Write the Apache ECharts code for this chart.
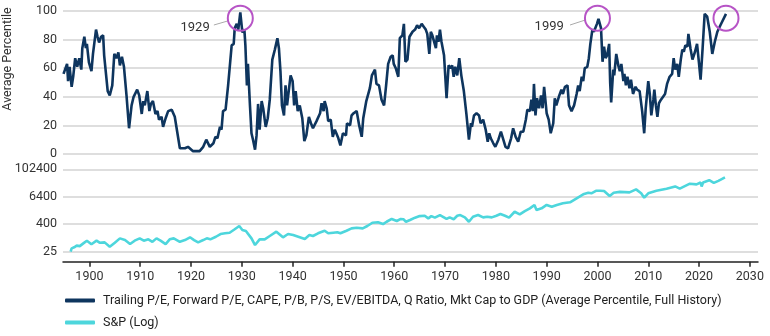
<!DOCTYPE html>
<html><head><meta charset="utf-8">
<script src="https://cdn.jsdelivr.net/npm/echarts@6/dist/echarts.min.js"></script>
<style>html,body{margin:0;padding:0;background:#fff}#c{width:770px;height:336px}</style>
</head><body><div id="c"></div>
<script>
// ---- Valuation composite (average percentile) ----
const topYears = [1894.9,1895.6,1895.8,1896.1,1896.5,1896.8,1897.2,1897.6,1898.0,1898.4,1898.6,1899.0,1899.3,1899.5,1899.9,1900.4,1900.7,1901.3,1901.6,1901.9,1902.3,1902.7,1902.9,1903.2,1903.6,1904.0,1904.5,1904.9,1905.3,1905.7,1906.0,1906.4,1906.8,1907.3,1907.8,1908.3,1908.7,1909.4,1909.8,1910.3,1910.6,1910.9,1911.4,1911.8,1912.1,1912.5,1913.0,1913.4,1913.7,1914.2,1914.5,1915.0,1915.5,1916.2,1916.8,1917.8,1918.8,1919.4,1920.4,
1921.7,1922.4,1923.0,1923.7,1924.4,1924.8,1925.2,1925.7,1926.0,1926.3,1926.8,1927.3,1928.0,1928.4,1928.6,1929.0,1929.3,1929.7,1930.1,1930.5,1930.7,1931.0,1931.2,1931.6,1931.9,1932.2,1932.6,1932.9,1933.2,1933.5,1933.9,1934.2,1934.7,1935.1,1935.5,1936.0,1936.5,1937.0,1937.3,1937.6,1937.9,1938.3,1938.6,1938.9,1939.3,1939.6,1940.0,1940.3,1940.6,1941.0,1941.4,1941.9,1942.3,1942.7,1943.2,1943.6,1944.0,1944.7,1945.4,1945.7,1946.1,1946.3,1946.7,1947.0,1947.5,
1947.9,1948.3,1948.6,1949.0,1949.4,1949.9,1950.5,1950.7,1951.3,1951.6,1952.0,1952.6,1953.1,1953.6,1953.9,1954.5,1955.2,1955.6,1955.9,1956.2,1956.5,1957.0,1957.5,1958.0,1958.4,1958.8,1959.3,1959.7,1959.9,1960.3,1960.8,1961.1,1961.6,1961.9,1962.2,1962.6,1963.0,1963.3,1963.6,1964.1,1964.5,1964.9,1965.4,1965.8,1966.2,1966.5,1966.9,1967.2,1967.5,1967.8,1968.2,1968.4,1968.7,1969.0,1969.3,1969.8,1970.3,1970.7,1971.1,1971.4,1971.7,1972.0,1972.4,1972.8,1973.2,1973.7,1974.2,1974.7,
1975.1,1975.3,1975.7,1976.2,1976.7,1977.0,1977.5,1978.0,1978.4,1978.7,1979.0,1979.5,1979.9,1980.5,1981.0,1981.4,1981.9,1982.4,1983.0,1983.4,1983.9,1984.4,1984.9,1985.4,1985.9,1986.2,1986.7,1987.0,1987.3,1987.5,1987.8,1988.1,1988.5,1988.9,1989.2,1989.5,1990.0,1990.4,1990.8,1991.3,1991.6,1991.9,1992.4,1992.9,1993.2,1993.6,1994.1,1994.4,1994.9,1995.4,1995.9,1996.2,1996.5,1996.9,1997.2,1997.5,1998.0,1998.3,1998.6,1999.0,1999.3,1999.6,1999.9,2000.2,
2000.7,2001.0,2001.3,2001.6,2001.9,2002.3,2002.5,2002.7,2003.1,2003.3,2003.7,2004.1,2004.4,2004.7,2005.1,2005.3,2005.6,2005.9,2006.3,2006.6,2007.0,2007.5,2007.8,2008.3,2008.8,2009.2,2009.5,2010.0,2010.3,2010.6,2011.0,2011.2,2011.5,2011.8,2012.1,2012.5,2012.8,2013.3,2013.7,2014.2,2014.7,2015.0,2015.3,2015.7,2016.0,2016.4,2016.7,2017.0,2017.3,2017.7,2017.9,2018.3,2018.7,2019.2,2019.6,2020.0,2020.3,2020.7,2021.1,2021.6,2022.1,2022.6,2023.1,2023.6,2024.2,2025.3];
const topValues = [56,63,51,61,47,54,67,61,67,59,74,82,74,77,64,58,70,87,82,78,82,83,69,69,44,41,48,70,67,71,62,68,61,41,18,34,40,45,41,28,37,34,44,30,35,37,28,30,24,26,19,25,30,31,26,4,4,5,2,
2,5,10,5,7.5,12,11,19,17,30,31,48,76,77,88,91,87,99,85,87,76,48,63,34,14.5,10,3,13,35,17,37,32,19,25,38,66,73,81,74,58,34,27,48,34,46,55,51,34,44,30,34,25,9,13,26,21.5,18,23,28.5,35.5,30,37,32,23,24,
12,17,14.5,11,6,14.5,13,21.5,20,27,28.5,30,20,12,25,37,46,55,54,59,49,48,38,34,48,63,68,69,63,60,54,81,83,91,64.5,66,82,81,85.5,87,90,88,91,89,87,84,70,85.5,83,84,74,83,78.5,87,78.5,69,39,62,60,62,54,61,55,67,55,44,28,10,
21.5,19,27,28.5,27,21.5,24,17,8.6,14.5,11,7.5,5,10,15.6,11,5,4,11,18,12,8.6,15.6,15.6,24,31,30,38,30,49,27,39,32,41,32,47,28.5,24,14.5,21.5,39,34,40,45,42,47,48,34,30,34,42,48,44,54,51,60,61,67,77,87,85.5,85.5,91,94.5,
88,64.5,75,67,69,77,50,36,59,55,70,62,58,63,51,56,48,54,46,52,42,47,45,44,30,14.5,32,51,42,27,38,45,34,26,35.5,38,37,42,49,54,56,67,59,63,54,66,73,71.5,76,75,84,74,66,71.5,77,63,52,74,98,96,85.5,70,78.5,85.5,90,98];

// ---- S&P (log) ----
const spYears = [1896.3,1896.5,1897.0,1897.5,1898.1,1898.8,1899.5,1900.4,1901.4,1902.0,1903.0,1904.0,1905.0,1906.0,1907.0,1908.0,1908.9,1909.9,1910.7,1911.6,1912.4,1913.2,1914.0,1915.0,1915.8,1916.6,1917.8,1918.8,1919.8,1920.6,1921.4,1922.4,1923.1,1923.8,1924.9,1925.8,1926.7,1927.6,1928.6,1929.5,1930.1,1930.8,1931.9,1932.6,1933.5,1934.5,1935.5,1936.8,1938.1,1939.1,1940.1,1941.4,1942.4,1943.3,1944.0,1945.0,1946.3,1947.0,1948.0,1948.8,1949.4,1950.6,1951.6,1952.6,1953.8,1954.7,1955.7,1956.8,1957.8,1958.5,1959.5,1960.5,1961.3,1961.8,1962.3,1963.1,1964.1,1965.0,1966.0,1966.7,1967.3,1968.0,1969.0,1969.6,1970.3,1970.9,1971.7,1972.4,1973.0,1973.9,1974.7,1975.5,1976.5,1977.5,1978.3,1979.2,1980.1,1980.9,1981.8,1982.6,1983.7,1984.7,1985.7,1986.7,1987.6,1988.0,1989.0,1990.0,1991.0,1992.0,1993.2,1994.6,1995.9,1997.2,1998.2,1998.8,1999.7,2000.5,2001.3,2002.4,2003.2,2004.4,2006.3,2007.6,2008.6,2009.2,2010.0,2011.6,2013.6,2015.3,2016.2,2018.2,2019.5,2020.3,2020.5,2020.8,2022.0,2022.9,2023.8,2025.1];
const spValues = [25,35,39,46,44,58,76,53,76,62,64,41,62,96,81,54,76,96,76,87,68,96,76,54,87,96,68,81,107,81,64,81,96,87,113,149,160,170,240,335,224,202,96,49,87,87,122,188,107,149,134,107,90,134,122,160,208,160,170,177,160,208,264,282,264,335,465,485,406,514,683,555,683,665,514,612,775,910,944,725,910,775,1010,850,683,800,665,944,1010,800,514,850,1010,800,850,800,944,1120,944,780,1410,1085,1515,1990,2800,1680,1990,2800,2340,2800,3300,3660,5500,8200,9600,9100,11700,11700,11400,6900,9600,10500,10000,13500,9100,5800,9100,11700,14500,18200,14500,24000,22300,27000,18200,27000,34000,26000,32000,45000];

// ---- axes / labels ----
const xTickYears = [1900,1910,1920,1930,1940,1950,1960,1970,1980,1990,2000,2010,2020,2030];
const spTickLabels = [25,400,6400,102400];
const circleYears = [1929.7,2000.0,2025.3];
const peakLabels = ['1929','1999'];
const seriesNames = ['Trailing P/E, Forward P/E, CAPE, P/B, P/S, EV/EBITDA, Q Ratio, Mkt Cap to GDP (Average Percentile, Full History)','S&P (Log)'];

const spBase = spTickLabels[0];
const FONT = 'Roboto';
const gridColor = '#d3d3d3';

const chart = echarts.init(document.getElementById('c'), null, {renderer:'canvas'});
chart.setOption({
  animation:false,
  textStyle:{fontFamily:FONT},
  grid:[
    {left:63, right:12, top:11, height:143},
    {left:63, right:12, top:169.3, height:82.4}
  ],
  xAxis:[
    {gridIndex:0, type:'value', min:1894.8, max:2031.6, show:false, splitLine:{show:false}},
    {gridIndex:1, type:'value', min:1894.8, max:2031.6, offset:10,
     axisLine:{show:true, lineStyle:{color:'#222', width:1.5}},
     axisTick:{show:true, length:5, customValues:xTickYears, lineStyle:{color:'#222', width:1.5}},
     axisLabel:{customValues:xTickYears, color:'#333', fontSize:12.5, margin:9, fontFamily:FONT,
       formatter:v=>String(Math.round(v))},
     splitLine:{show:false}}
  ],
  yAxis:[
    {gridIndex:0, type:'value', min:0, max:100, interval:20,
     axisLine:{show:false}, axisTick:{show:false},
     axisLabel:{color:'#333', fontSize:12.5, margin:6, fontFamily:FONT},
     splitLine:{lineStyle:{color:gridColor, width:1.5}}},
    {gridIndex:1, type:'log', logBase:16, min:1, max:4096,
     axisLine:{show:false}, axisTick:{show:false},
     axisLabel:{color:'#333', fontSize:12.5, margin:6, fontFamily:FONT,
       formatter:v=>String(Math.round(v*spBase))},
     splitLine:{lineStyle:{color:gridColor, width:1.5}}}
  ],
  legend:{orient:'vertical', left:60, top:289, itemWidth:30, itemHeight:4, itemGap:9, icon:'roundRect',
    textStyle:{fontSize:12.5, color:'#222', fontFamily:FONT, padding:[0,0,0,3]}, data:seriesNames},
  graphic:[{type:'text', x:8, y:59, rotation:Math.PI/2,
    style:{text:'Average Percentile', fill:'#333', font:'12.5px Roboto', textAlign:'center', textVerticalAlign:'middle'}}],
  series:[
    {name:seriesNames[0], type:'line', xAxisIndex:0, yAxisIndex:0, showSymbol:false, symbol:'none',
     lineStyle:{color:'#0e355e', width:2.6}, itemStyle:{color:'#0e355e'},
     data:topYears.map((y,i)=>[y,topValues[i]]),
     markPoint:{silent:true, animation:false,
       data:[
         ...circleYears.map(y=>({coord:[y,95], symbol:'circle', symbolSize:25,
            itemStyle:{color:'rgba(0,0,0,0)', borderColor:'#b754c6', borderWidth:2}, label:{show:false}})),
         {coord:[1920.8,88], symbol:'rect', symbolSize:1, itemStyle:{color:'rgba(0,0,0,0)'},
          label:{show:true, position:'inside', formatter:peakLabels[0], color:'#333', fontSize:13, fontFamily:FONT}},
         {coord:[1990.5,88.8], symbol:'rect', symbolSize:1, itemStyle:{color:'rgba(0,0,0,0)'},
          label:{show:true, position:'inside', formatter:peakLabels[1], color:'#333', fontSize:13, fontFamily:FONT}}
       ]},
     markLine:{silent:true, symbol:['none','none'], label:{show:false}, lineStyle:{color:'#aaaaaa', width:1, type:'solid'},
       data:[
         [{coord:[1924.5,90.2]},{coord:[1927.2,93]}],
         [{coord:[1994.6,90.2]},{coord:[1997.6,93.7]}]
       ]}
    },
    {name:seriesNames[1], type:'line', xAxisIndex:1, yAxisIndex:1, showSymbol:false, symbol:'none',
     lineStyle:{color:'#4dd6dc', width:2.6}, itemStyle:{color:'#4dd6dc'},
     data:spYears.map((y,i)=>[y,spValues[i]/spBase])}
  ]
});
</script></body></html>
